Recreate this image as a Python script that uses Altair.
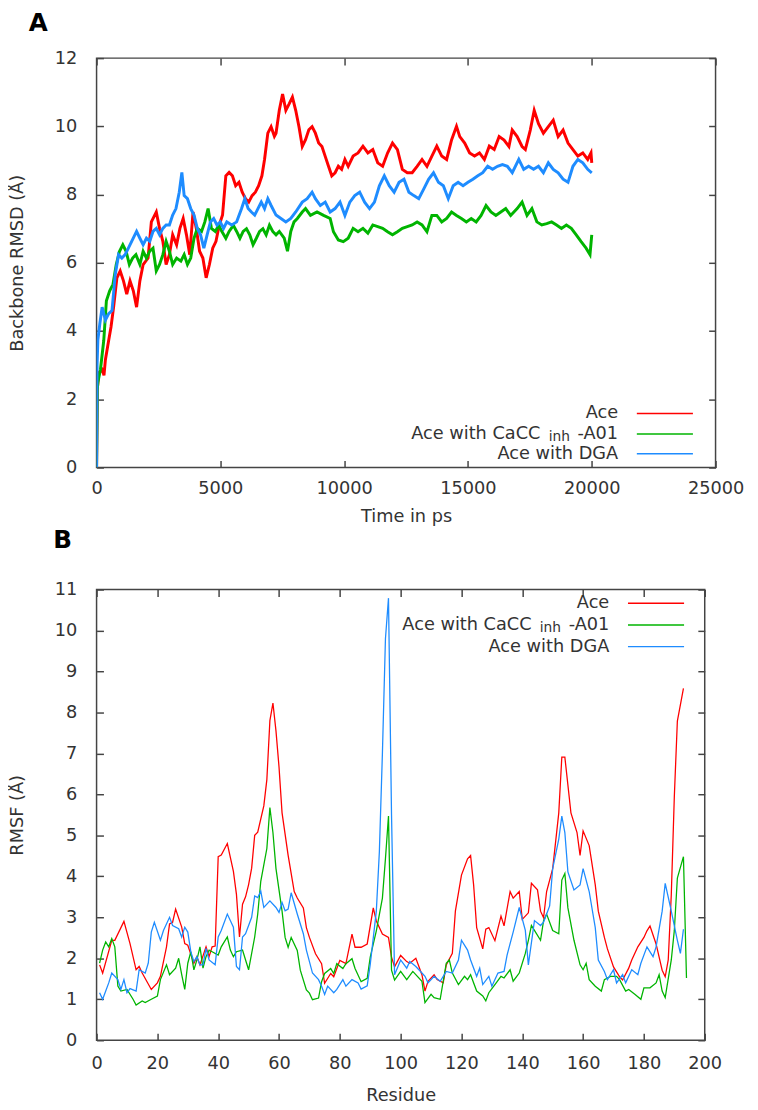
import altair as alt
import pandas as pd

FONT = "DejaVu Sans"
TXT = "#333333"
BOX = "#444444"
SERIES = ["Ace", "Ace with CaCC inh-A01", "Ace with DGA"]
COLORS = ["#ff0000", "#00b400", "#1e8cff"]

# ---------------- Panel A: backbone RMSD (time in ps, RMSD in Å) ----------------
ace_rmsd_pts = [(0, 0), (30, 2.3), (93, 2.78), (225, 2.87), (300, 2.7), (357, 3.16), (490, 3.73), (583, 4.12),
    (688, 4.7), (821, 5.56), (954, 5.76), (1086, 5.47), (1219, 5.08), (1351, 5.47), (1484, 5.18), (1616, 4.7),
    (1749, 5.47), (1881, 5.95), (2080, 6.14), (2213, 7.2), (2412, 7.49), (2544, 7.01), (2677, 6.63), (2809, 5.95),
    (2942, 6.24), (3074, 6.82), (3233, 6.53), (3366, 7.01), (3498, 7.3), (3631, 6.82), (3763, 6.24), (3896, 7.49),
    (4028, 7.01), (4161, 6.34), (4293, 6.14), (4426, 5.56), (4558, 5.95), (4691, 6.43), (4823, 6.63), (4956, 7.11),
    (5088, 7.4), (5221, 8.55), (5353, 8.65), (5486, 8.55), (5618, 8.26), (5751, 8.36), (5883, 8.07), (6016, 7.88),
    (6148, 7.78), (6281, 7.97), (6413, 8.07), (6546, 8.26), (6678, 8.55), (6784, 9.03), (6917, 9.8), (7049, 9.99),
    (7182, 9.71), (7248, 9.8), (7380, 10.47), (7513, 10.95), (7645, 10.47), (7778, 10.66), (7910, 10.86),
    (8043, 10.47), (8175, 9.99), (8308, 9.41), (8440, 9.61), (8573, 9.9), (8705, 9.99), (8838, 9.8), (8970, 9.51),
    (9103, 9.41), (9235, 9.12), (9368, 8.83), (9500, 8.55), (9633, 8.64), (9765, 8.83), (9898, 8.74), (10030, 9.03),
    (10163, 8.83), (10362, 9.13), (10560, 9.22), (10759, 9.42), (10958, 9.22), (11157, 9.32), (11356, 8.93),
    (11554, 8.83), (11753, 9.22), (11952, 9.51), (12151, 9.32), (12350, 8.74), (12549, 8.64), (12747, 8.64),
    (12946, 8.83), (13145, 9.03), (13344, 8.83), (13543, 9.13), (13741, 9.42), (13940, 9.13), (14139, 9.03),
    (14338, 9.6), (14537, 10.0), (14669, 9.7), (14868, 9.51), (15067, 9.22), (15266, 9.13), (15465, 9.22),
    (15663, 9.03), (15862, 9.42), (16061, 9.32), (16260, 9.7), (16459, 9.6), (16655, 9.41), (16788, 9.89),
    (16987, 9.7), (17186, 9.41), (17318, 9.32), (17517, 9.89), (17676, 10.47), (17848, 10.08), (18047, 9.8),
    (18246, 9.99), (18445, 10.18), (18643, 9.7), (18842, 9.89), (19041, 9.51), (19240, 9.32), (19439, 9.13),
    (19638, 9.22), (19836, 9.03), (19969, 9.22), (20000, 8.93)]

cacc_rmsd_pts = [(0, 0), (30, 2.3), (53, 2.5), (159, 2.88), (291, 3.73), (397, 4.89), (530, 5.18), (663, 5.37),
    (795, 5.95), (928, 6.34), (1060, 6.53), (1192, 6.34), (1325, 5.95), (1457, 6.14), (1590, 6.24), (1749, 5.95),
    (1881, 6.34), (2014, 6.14), (2147, 6.34), (2279, 6.43), (2412, 5.76), (2544, 5.95), (2677, 6.24), (2809, 6.63),
    (2942, 6.34), (3074, 5.95), (3233, 6.14), (3405, 6.05), (3538, 6.24), (3670, 5.95), (3803, 6.14), (3935, 6.72),
    (4068, 7.01), (4240, 6.92), (4373, 7.2), (4505, 7.59), (4638, 7.01), (4797, 6.92), (4929, 7.1), (5062, 6.92),
    (5221, 6.72), (5353, 6.92), (5525, 7.1), (5657, 6.92), (5790, 6.72), (5922, 6.92), (6055, 7.0), (6187, 6.82),
    (6320, 6.53), (6453, 6.72), (6585, 6.92), (6718, 7.0), (6850, 6.82), (6983, 7.1), (7115, 6.92), (7248, 6.82),
    (7380, 6.92), (7579, 6.72), (7711, 6.34), (7844, 6.92), (7976, 7.2), (8109, 7.3), (8308, 7.49), (8440, 7.59),
    (8639, 7.39), (8904, 7.49), (9169, 7.39), (9434, 7.3), (9567, 6.91), (9765, 6.67), (9964, 6.62), (10163, 6.72),
    (10362, 7.01), (10560, 6.91), (10759, 7.01), (10958, 6.87), (11157, 7.11), (11356, 7.06), (11554, 7.01),
    (11753, 6.91), (11952, 6.82), (12151, 6.91), (12350, 7.01), (12549, 7.06), (12747, 7.11), (12946, 7.2),
    (13145, 7.11), (13344, 6.91), (13543, 7.39), (13741, 7.39), (13940, 7.2), (14139, 7.3), (14338, 7.49),
    (14537, 7.39), (14736, 7.3), (14935, 7.2), (15133, 7.3), (15332, 7.2), (15531, 7.39), (15730, 7.68),
    (15929, 7.49), (16127, 7.39), (16326, 7.49), (16525, 7.59), (16724, 7.39), (16987, 7.59), (17186, 7.78),
    (17385, 7.39), (17583, 7.59), (17782, 7.2), (17981, 7.11), (18180, 7.15), (18379, 7.2), (18577, 7.11),
    (18776, 7.01), (18975, 7.11), (19174, 7.01), (19373, 6.82), (19571, 6.62), (19770, 6.43), (19929, 6.24),
    (20000, 6.82)]

dga_rmsd_pts = [(0, 0), (20, 3.0), (53, 3.74), (133, 4.22), (225, 4.7), (357, 4.32), (490, 4.51), (623, 4.6),
    (755, 5.66), (888, 6.24), (1020, 6.14), (1153, 6.24), (1285, 6.43), (1418, 6.63), (1616, 6.92), (1749, 6.72),
    (1881, 6.53), (2014, 6.72), (2147, 6.63), (2279, 6.92), (2412, 7.01), (2544, 6.82), (2677, 7.01), (2809, 7.11),
    (2942, 7.11), (3074, 7.4), (3207, 7.59), (3339, 8.07), (3445, 8.65), (3538, 7.97), (3670, 7.88), (3803, 7.59),
    (3935, 7.4), (4068, 7.01), (4200, 6.82), (4333, 6.43), (4465, 6.82), (4598, 7.2), (4730, 7.3), (4863, 7.11),
    (4995, 7.2), (5128, 7.01), (5260, 7.2), (5459, 7.11), (5658, 7.2), (5857, 7.59), (5989, 7.88), (6122, 7.59),
    (6254, 7.49), (6387, 7.4), (6519, 7.59), (6652, 7.78), (6784, 7.59), (6917, 7.88), (7049, 7.68), (7248, 7.4),
    (7447, 7.3), (7645, 7.2), (7844, 7.3), (8043, 7.49), (8308, 7.78), (8506, 7.88), (8705, 8.07), (8838, 7.88),
    (9037, 7.68), (9235, 7.78), (9434, 7.49), (9633, 7.59), (9832, 7.78), (10030, 7.39), (10229, 7.78),
    (10428, 7.97), (10627, 8.07), (10826, 7.78), (11024, 7.59), (11223, 7.78), (11422, 8.26), (11621, 8.55),
    (11820, 8.26), (12018, 8.07), (12217, 8.36), (12416, 8.45), (12615, 8.07), (12814, 7.97), (13012, 7.88),
    (13211, 8.16), (13410, 8.45), (13609, 8.64), (13808, 8.36), (14006, 8.26), (14205, 7.88), (14404, 8.26),
    (14603, 8.36), (14802, 8.26), (15000, 8.36), (15199, 8.45), (15398, 8.55), (15597, 8.64), (15796, 8.83),
    (15994, 8.74), (16193, 8.83), (16392, 8.88), (16591, 8.83), (16790, 8.64), (17053, 9.03), (17252, 8.74),
    (17451, 8.83), (17650, 8.74), (17848, 8.83), (18047, 8.64), (18246, 8.93), (18445, 8.74), (18643, 8.64),
    (18842, 8.45), (19041, 8.36), (19240, 8.83), (19439, 9.03), (19638, 8.93), (19836, 8.74), (20000, 8.64)]

# ---------------- Panel B: RMSF per residue (Å) ----------------
ace_rmsf_pts = [(1, 1.84), (2, 1.64), (5, 2.44), (6, 2.44), (9, 2.9), (11, 2.36), (13, 1.72), (14, 1.8), (15, 1.64),
    (18, 1.24), (20, 1.4), (21, 1.56), (23, 2.28), (24, 2.84), (25, 2.88), (26, 3.2), (28, 2.76), (29, 2.36),
    (30, 2.32), (32, 1.88), (33, 2.04), (34, 1.84), (36, 2.28), (37, 2.04), (38, 2.28), (39, 2.3), (40, 4.48),
    (41, 4.52), (43, 4.8), (45, 4.12), (46, 3.56), (47, 2.52), (48, 3.32), (49, 3.5), (50, 3.8), (51, 4.2),
    (52, 5.0), (53, 5.08), (55, 5.72), (56, 6.36), (57, 7.8), (58, 8.23), (59, 7.55), (60, 6.67), (61, 5.55),
    (63, 4.51), (65, 3.63), (66, 3.47), (68, 3.23), (69, 2.75), (70, 2.51), (72, 2.11), (74, 1.87), (75, 1.39),
    (77, 1.63), (78, 1.55), (80, 1.95), (82, 1.87), (84, 2.59), (85, 2.27), (87, 2.27), (89, 2.35), (91, 3.23),
    (92, 2.91), (94, 2.59), (96, 2.51), (97, 2.03), (98, 1.79), (100, 2.07), (102, 1.92), (103, 1.88), (105, 2.0),
    (107, 1.6), (108, 1.2), (109, 1.44), (111, 1.6), (112, 1.48), (114, 1.4), (115, 1.84), (117, 2.12), (118, 3.15),
    (120, 4.03), (122, 4.43), (123, 4.51), (124, 3.79), (125, 2.75), (127, 2.23), (128, 2.71), (129, 2.75),
    (131, 2.43), (133, 3.03), (134, 2.79), (136, 3.63), (137, 3.47), (139, 3.63), (140, 2.95), (142, 3.11),
    (143, 3.83), (145, 3.67), (146, 3.15), (147, 2.99), (148, 3.63), (150, 4.19), (152, 5.55), (153, 6.91),
    (154, 6.91), (156, 5.55), (158, 5.07), (159, 4.51), (160, 5.11), (162, 4.75), (164, 3.79), (165, 3.15),
    (167, 2.51), (168, 2.23), (170, 1.79), (172, 1.55), (173, 1.47), (175, 1.76), (176, 1.96), (178, 2.28),
    (180, 2.51), (181, 2.67), (182, 2.79), (184, 2.35), (186, 1.71), (187, 1.55), (188, 1.96), (189, 3.55),
    (190, 5.95), (191, 7.79), (193, 8.59)]

cacc_rmsf_pts = [(1, 1.88), (2, 2.2), (3, 2.4), (4, 2.28), (5, 2.48), (6, 2.28), (7, 1.32), (8, 1.2), (10, 1.24),
    (12, 1.0), (13, 0.86), (15, 0.96), (16, 0.92), (18, 1.0), (20, 1.08), (21, 1.48), (23, 1.84), (24, 1.6),
    (26, 1.76), (27, 2.0), (28, 1.6), (29, 1.24), (30, 1.88), (31, 2.16), (32, 1.72), (33, 1.96), (34, 2.28),
    (35, 1.76), (36, 2.04), (37, 2.2), (38, 2.16), (40, 2.08), (41, 2.28), (43, 2.52), (44, 2.2), (45, 2.04),
    (46, 2.16), (48, 2.2), (49, 1.96), (50, 1.72), (52, 2.52), (53, 3.08), (54, 3.88), (56, 4.68), (57, 5.68),
    (58, 5.07), (59, 4.19), (61, 3.15), (62, 2.51), (63, 2.27), (64, 2.51), (66, 2.19), (67, 1.71), (69, 1.23),
    (70, 1.15), (71, 0.99), (73, 1.03), (74, 1.43), (75, 1.63), (77, 1.75), (78, 1.63), (79, 1.87), (81, 1.75),
    (82, 1.87), (84, 1.99), (85, 1.75), (87, 1.43), (89, 1.51), (90, 2.03), (92, 2.67), (94, 3.47), (95, 4.43),
    (96, 5.47), (97, 1.71), (98, 1.47), (100, 1.68), (102, 1.48), (104, 1.68), (107, 1.44), (108, 0.92),
    (110, 1.12), (111, 1.04), (113, 1.0), (115, 1.88), (116, 1.96), (117, 1.64), (119, 1.36), (121, 1.56),
    (122, 1.48), (123, 1.6), (125, 1.2), (127, 1.08), (128, 0.96), (129, 1.16), (131, 1.36), (133, 1.56),
    (134, 1.52), (136, 1.72), (137, 1.44), (139, 1.64), (141, 2.12), (142, 2.44), (143, 2.8), (144, 2.68),
    (146, 2.44), (147, 2.92), (148, 3.08), (150, 2.68), (152, 2.6), (153, 3.91), (154, 4.07), (155, 3.23),
    (157, 2.44), (159, 1.84), (160, 1.72), (161, 1.88), (162, 1.48), (164, 1.32), (166, 1.2), (167, 1.48),
    (169, 1.56), (171, 1.56), (172, 1.48), (174, 1.2), (175, 1.24), (177, 1.12), (179, 1.0), (180, 1.28),
    (182, 1.28), (184, 1.4), (185, 1.6), (186, 1.2), (187, 1.04), (189, 1.96), (190, 2.68), (191, 3.96),
    (193, 4.48), (194, 1.52)]

dga_rmsf_pts = [(1, 1.16), (2, 1.0), (4, 1.4), (5, 1.64), (7, 1.48), (8, 1.24), (9, 1.48), (10, 1.16), (11, 1.26),
    (13, 1.2), (14, 1.72), (16, 1.64), (17, 1.88), (18, 2.64), (19, 2.88), (21, 2.44), (22, 2.68), (24, 3.0),
    (25, 2.8), (27, 2.72), (28, 2.52), (29, 2.76), (30, 2.64), (31, 2.16), (32, 1.92), (33, 2.04), (34, 1.84),
    (35, 1.84), (36, 2.24), (37, 1.96), (39, 1.84), (40, 2.52), (41, 2.68), (43, 3.08), (45, 2.76), (46, 1.8),
    (47, 1.72), (48, 2.52), (49, 2.6), (51, 3.0), (52, 3.52), (53, 3.48), (54, 3.64), (55, 3.24), (57, 3.4),
    (59, 3.24), (60, 3.12), (61, 3.36), (62, 3.16), (63, 3.2), (64, 3.6), (66, 3.08), (68, 2.6), (69, 2.2),
    (71, 1.64), (73, 1.48), (74, 1.32), (75, 1.12), (76, 1.32), (78, 1.16), (79, 1.24), (81, 1.48), (82, 1.32),
    (84, 1.48), (86, 1.4), (87, 1.25), (89, 1.33), (90, 1.85), (92, 3.15), (93, 4.6), (94, 7.0), (95, 9.8),
    (96, 10.79), (97, 5.5), (98, 1.6), (100, 1.96), (102, 1.76), (103, 1.92), (105, 1.8), (107, 1.64), (108, 1.56),
    (109, 1.4), (111, 1.56), (113, 1.44), (115, 1.68), (117, 1.64), (119, 1.96), (120, 2.44), (122, 2.2),
    (123, 1.96), (125, 1.56), (126, 1.76), (127, 1.36), (129, 1.56), (130, 1.32), (132, 1.64), (134, 1.68),
    (135, 2.08), (137, 2.64), (139, 3.24), (141, 2.68), (142, 1.84), (144, 2.92), (146, 2.8), (147, 2.88),
    (149, 3.28), (150, 4.19), (152, 4.91), (153, 5.47), (154, 5.07), (155, 4.11), (157, 3.67), (159, 3.79),
    (160, 4.19), (162, 3.63), (164, 2.75), (165, 1.96), (167, 1.68), (168, 1.48), (170, 1.72), (171, 1.4),
    (173, 1.6), (174, 1.4), (176, 1.72), (178, 1.6), (179, 1.88), (181, 2.28), (183, 2.04), (184, 2.28),
    (186, 3.15), (187, 3.83), (189, 3.15), (191, 2.44), (192, 2.12), (193, 2.71)]

# axis tick values
rmsd_x_ticks = [0, 5000, 10000, 15000, 20000, 25000]
rmsd_y_ticks = [0, 2, 4, 6, 8, 10, 12]
rmsf_x_ticks = [0, 20, 40, 60, 80, 100, 120, 140, 160, 180, 200]
rmsf_y_ticks = [0, 1, 2, 3, 4, 5, 6, 7, 8, 9, 10, 11]


def long_df(point_lists, xname, yname):
    frames = []
    for name, pts in zip(SERIES, point_lists):
        xs = [p[0] for p in pts]
        ys = [p[1] for p in pts]
        frames.append(pd.DataFrame({xname: xs, yname: ys, "series": name}))
    return pd.concat(frames, ignore_index=True)


def legend_layers(right, line_x1, line_x2, rows):
    layers = []
    txt = dict(font=FONT, color=TXT, baseline="middle", align="right")
    one = pd.DataFrame({"k": [0]})
    layers.append(alt.Chart(one).mark_text(text="Ace", fontSize=18, **txt).encode(
        x=alt.value(right), y=alt.value(rows[0])))
    layers.append(alt.Chart(one).mark_text(text="-A01", fontSize=18, **txt).encode(
        x=alt.value(right), y=alt.value(rows[1])))
    layers.append(alt.Chart(one).mark_text(text="inh", fontSize=14, **txt).encode(
        x=alt.value(right - 49), y=alt.value(rows[1] + 3)))
    layers.append(alt.Chart(one).mark_text(text="Ace with CaCC", fontSize=18, **txt).encode(
        x=alt.value(right - 79), y=alt.value(rows[1])))
    layers.append(alt.Chart(one).mark_text(text="Ace with DGA", fontSize=18, **txt).encode(
        x=alt.value(right), y=alt.value(rows[2])))
    for r, c in zip(rows, COLORS):
        layers.append(alt.Chart(one).mark_rule(color=c, strokeWidth=1.5).encode(
            x=alt.value(line_x1), x2=alt.value(line_x2), y=alt.value(r)))
    return layers


def panel(df, xf, yf, xdom, ydom, xticks, yticks, xtitle, ytitle, w, h, sw,
          letter, letter_dx, letter_offset, leg, lab_pad, tit_pad):
    xs = alt.Scale(domain=xdom, nice=False, zero=False)
    ys = alt.Scale(domain=ydom, nice=False, zero=False)
    color = alt.Color("series:N", scale=alt.Scale(domain=SERIES, range=COLORS), legend=None)
    base = alt.Chart(df)
    lines = base.mark_line(strokeWidth=sw, clip=True, strokeJoin="miter").encode(
        x=alt.X(f"{xf}:Q", scale=xs, axis=alt.Axis(
            orient="bottom", values=xticks, format="d", title=xtitle, tickSize=0,
            labelPadding=lab_pad, titlePadding=tit_pad, labelFlush=False, labelOverlap=False)),
        y=alt.Y(f"{yf}:Q", scale=ys, axis=alt.Axis(
            orient="left", values=yticks, format="d", title=ytitle, tickSize=0,
            labelPadding=20, titlePadding=28, labelOverlap=False)),
        color=color,
        detail="series:N",
    )
    ticks_a = base.mark_line(strokeOpacity=0).encode(
        x=alt.X(f"{xf}:Q", scale=xs, axis=alt.Axis(
            orient="top", offset=-h, values=xticks, labels=False, tickSize=7, title=None)),
        y=alt.Y(f"{yf}:Q", scale=ys, axis=alt.Axis(
            orient="right", offset=-w, values=yticks, labels=False, tickSize=7, title=None)),
        detail="series:N",
    )
    ticks_b = base.mark_line(strokeOpacity=0).encode(
        x=alt.X(f"{xf}:Q", scale=xs, axis=alt.Axis(
            orient="bottom", offset=-h, values=xticks, labels=False, tickSize=7, title=None)),
        y=alt.Y(f"{yf}:Q", scale=ys, axis=alt.Axis(
            orient="left", offset=-w, values=yticks, labels=False, tickSize=7, title=None)),
        detail="series:N",
    )
    layers = [lines, ticks_a, ticks_b] + legend_layers(*leg)
    return alt.layer(*layers).resolve_axis(x="independent", y="independent").properties(
        width=w, height=h,
        title=alt.TitleParams(text=letter, anchor="start", frame="group", dx=letter_dx,
                              offset=letter_offset, fontSize=25, font="DejaVu Sans",
                              fontWeight="bold", color="#000000"),
    )


df_a = long_df([ace_rmsd_pts, cacc_rmsd_pts, dga_rmsd_pts], "time", "rmsd")
df_b = long_df([ace_rmsf_pts, cacc_rmsf_pts, dga_rmsf_pts], "residue", "rmsf")

panel_a = panel(df_a, "time", "rmsd", [0, 25000], [0, 12], rmsd_x_ticks, rmsd_y_ticks,
                "Time in ps", "Backbone RMSD (Å)", 629, 416, 3.0, "A", -69, 14,
                (530, 549, 606, [361, 382, 402]), 12, 11)
panel_b = panel(df_b, "residue", "rmsf", [0, 200], [0, 11], rmsf_x_ticks, rmsf_y_ticks,
                "Residue", "RMSF (Å)", 618, 458, 1.3, "B", -44, 28,
                (521, 540, 597, [14, 36, 58]), 15, 14)

chart = alt.vconcat(panel_a, panel_b, spacing=1).properties(
    padding={"left": 0, "top": -7, "right": 5, "bottom": 0}
).configure_view(
    stroke=BOX, strokeWidth=1.5
).configure_axis(
    labelFont=FONT, labelFontSize=18, labelColor=TXT,
    titleFont=FONT, titleFontSize=18, titleFontWeight="normal", titleColor=TXT,
    domain=False, grid=False, tickColor=BOX, tickWidth=1.5,
).configure_title(anchor="start")

chart.save("out.html", embed_options={"renderer": "svg", "actions": False})
